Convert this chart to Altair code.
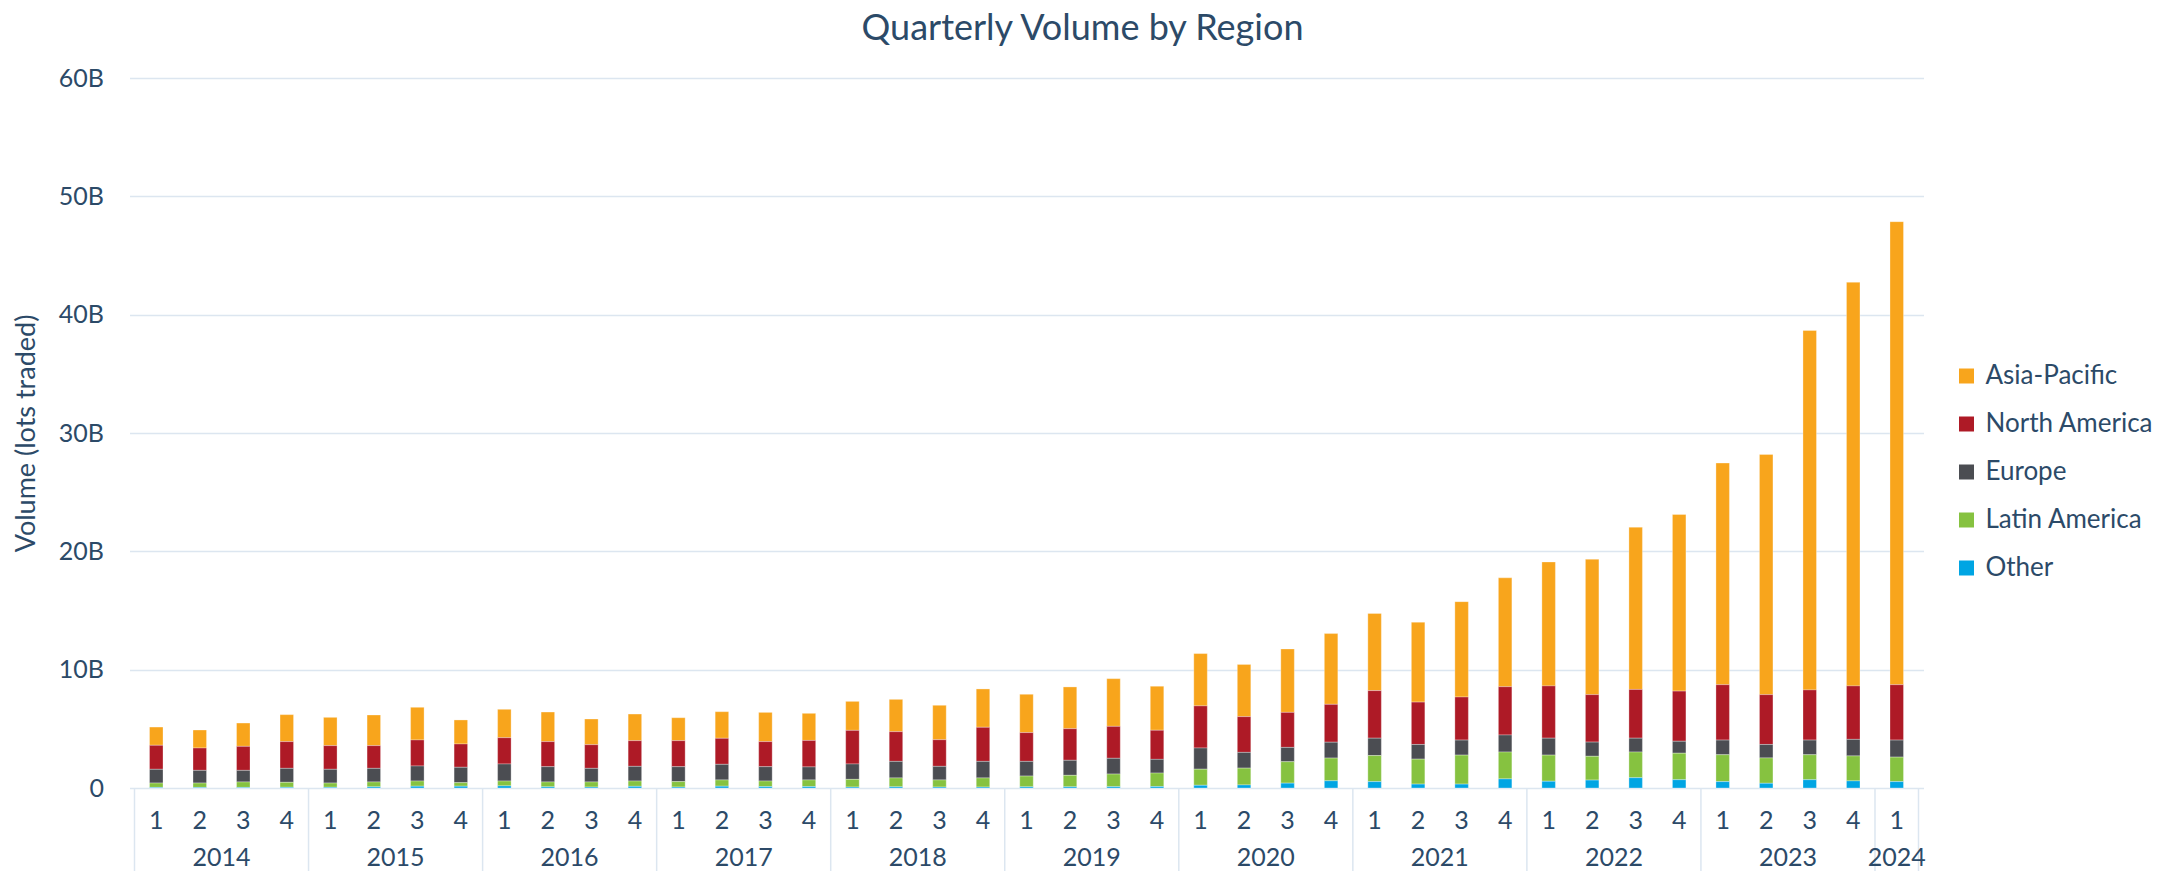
import altair as alt
import pandas as pd

years = [2014]*4 + [2015]*4 + [2016]*4 + [2017]*4 + [2018]*4 + [2019]*4 + \
        [2020]*4 + [2021]*4 + [2022]*4 + [2023]*4 + [2024]
quarters = [1, 2, 3, 4]*10 + [1]

regions = ["Asia-Pacific", "North America", "Europe", "Latin America", "Other"]
colors = ["#F8A51C", "#AE1A26", "#4B4D52", "#86C240", "#00A5E3"]

# values in billions of lots
other = [0.05, 0.05, 0.05, 0.06, 0.06, 0.10, 0.15, 0.15, 0.18, 0.10, 0.08, 0.14,
         0.08, 0.15, 0.12, 0.12, 0.08, 0.10, 0.08, 0.08, 0.10, 0.10, 0.11, 0.12,
         0.23, 0.26, 0.41, 0.61, 0.54, 0.33, 0.33, 0.77, 0.57, 0.67, 0.87, 0.70,
         0.54, 0.40, 0.70, 0.60, 0.54]
latin_america = [0.37, 0.37, 0.46, 0.42, 0.36, 0.41, 0.44, 0.30, 0.41, 0.41, 0.43, 0.45,
                 0.46, 0.53, 0.47, 0.56, 0.65, 0.75, 0.60, 0.77, 0.91, 0.97, 1.07, 1.14,
                 1.36, 1.42, 1.81, 1.92, 2.20, 2.11, 2.45, 2.27, 2.21, 2.01, 2.17, 2.24,
                 2.27, 2.14, 2.11, 2.11, 2.07]
europe = [1.16, 1.07, 0.98, 1.18, 1.16, 1.15, 1.27, 1.30, 1.44, 1.29, 1.15, 1.24,
          1.26, 1.32, 1.21, 1.10, 1.30, 1.40, 1.15, 1.40, 1.24, 1.27, 1.33, 1.16,
          1.79, 1.33, 1.21, 1.34, 1.47, 1.24, 1.27, 1.44, 1.43, 1.20, 1.17, 1.01,
          1.24, 1.14, 1.24, 1.40, 1.44]
north_america = [2.03, 1.89, 2.03, 2.26, 2.00, 1.92, 2.20, 1.97, 2.22, 2.12, 2.00, 2.17,
                 2.20, 2.20, 2.12, 2.24, 2.84, 2.51, 2.25, 2.88, 2.43, 2.67, 2.70, 2.46,
                 3.56, 3.02, 2.96, 3.20, 4.02, 3.58, 3.64, 4.08, 4.42, 4.01, 4.12, 4.24,
                 4.68, 4.21, 4.24, 4.52, 4.68]
asia_pacific = [1.54, 1.52, 1.97, 2.28, 2.39, 2.59, 2.76, 2.03, 2.40, 2.50, 2.17, 2.25,
                1.94, 2.25, 2.47, 2.29, 2.45, 2.73, 2.91, 3.24, 3.24, 3.53, 4.03, 3.72,
                4.42, 4.41, 5.36, 5.98, 6.52, 6.75, 8.06, 9.20, 10.47, 11.44, 13.71, 14.92,
                18.73, 20.30, 30.37, 34.11, 39.13]

series = {
    "Asia-Pacific": asia_pacific,
    "North America": north_america,
    "Europe": europe,
    "Latin America": latin_america,
    "Other": other,
}
stack_rank = {"Other": 0, "Latin America": 1, "Europe": 2, "North America": 3, "Asia-Pacific": 4}

rows = []
for name, vals in series.items():
    for i, v in enumerate(vals):
        rows.append({"idx": i, "year": years[i], "quarter": quarters[i],
                     "region": name, "value": v, "rank": stack_rank[name]})
df = pd.DataFrame(rows)

qdf = pd.DataFrame({"idx": list(range(len(years))), "quarter": [str(q) for q in quarters]})

ydf = pd.DataFrame({"idx": list(range(len(years))), "year": years})
ylab = ydf.groupby("year", as_index=False)["idx"].mean()
ylab["label"] = ylab["year"].astype(str)

bounds = [g["idx"].min() - 0.5 for _, g in ydf.groupby("year")] + [len(years) - 0.5]
bdf = pd.DataFrame({"pos": bounds})

TEXT = "#2C4A68"
GRID = "#DCE6F0"
W, H = 1794, 710

xscale = alt.Scale(domain=[-0.5, len(years) - 0.5], nice=False, zero=False)

bars = alt.Chart(df).mark_bar(size=13.5, stroke="white", strokeWidth=0.5, strokeOpacity=0.6).encode(
    x=alt.X("idx:Q", scale=xscale, axis=None),
    y=alt.Y("value:Q", stack="zero",
            scale=alt.Scale(domain=[0, 60], nice=False),
            axis=alt.Axis(values=[0, 10, 20, 30, 40, 50, 60],
                          labelExpr="datum.value == 0 ? '0' : datum.value + 'B'",
                          labelFontSize=25, labelColor=TEXT, labelPadding=26,
                          ticks=False, domain=False, gridColor=GRID, gridWidth=1.5,
                          title="Volume (lots traded)", titleFontSize=27,
                          titleFontWeight="normal", titleColor=TEXT,
                          titleX=-89, titleY=355)),
    color=alt.Color("region:N", scale=alt.Scale(domain=regions, range=colors),
                    legend=alt.Legend(title=None, orient="none", legendX=1824, legendY=285,
                                      direction="vertical", labelFontSize=26,
                                      labelColor=TEXT, symbolType="square",
                                      symbolSize=225, symbolStrokeWidth=0,
                                      rowPadding=22, labelOffset=6, labelLimit=400)),
    order=alt.Order("rank:Q", sort="ascending"),
)

qtext = alt.Chart(qdf).mark_text(fontSize=25, color=TEXT, baseline="alphabetic").encode(
    x=alt.X("idx:Q", scale=xscale),
    y=alt.value(H + 41),
    text="quarter:N",
)

ytext = alt.Chart(ylab).mark_text(fontSize=25, color=TEXT, baseline="alphabetic").encode(
    x=alt.X("idx:Q", scale=xscale),
    y=alt.value(H + 78),
    text="label:N",
)

seps = alt.Chart(bdf).mark_rule(color=GRID, strokeWidth=1.5).encode(
    x=alt.X("pos:Q", scale=xscale),
    y=alt.value(H),
    y2=alt.value(H + 95),
)

chart = alt.layer(bars, seps, qtext, ytext).properties(
    width=W, height=H,
    title=alt.Title("Quarterly Volume by Region", fontSize=36, color=TEXT,
                    fontWeight="normal", anchor="middle", dx=56, offset=18),
    autosize=alt.AutoSizeParams(type="none"),
    padding={"left": 121.5, "top": 70, "right": 250, "bottom": 83},
).configure(font="Lato").configure_view(stroke=None)

chart.save("out.html", embed_options={"renderer": "svg", "actions": False})
